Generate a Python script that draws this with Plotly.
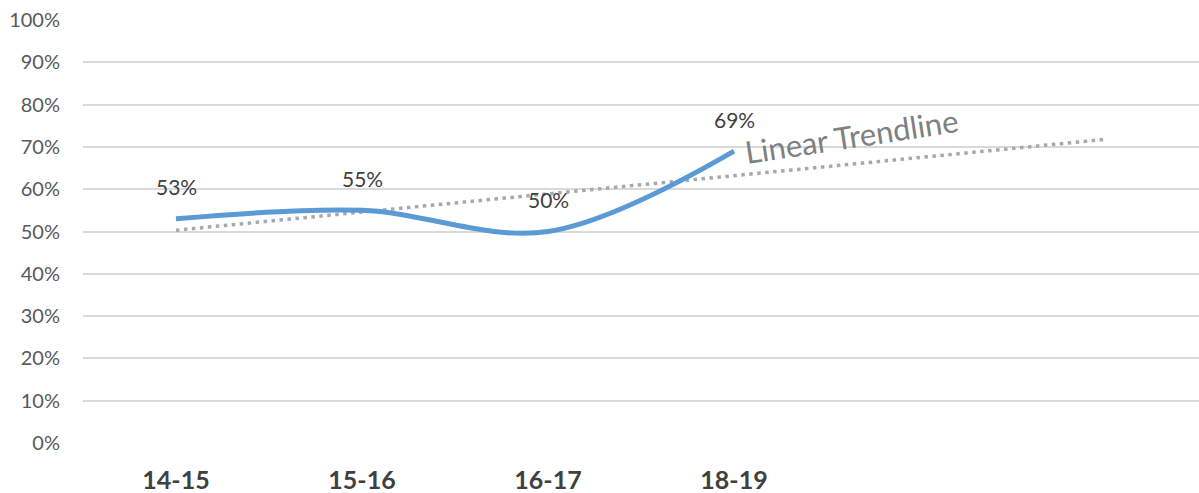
import numpy as np
import plotly.graph_objects as go

# School years and the share recorded for each
years = ["14-15", "15-16", "16-17", "18-19"]
share = [53, 55, 50, 69]
# Two extra empty periods on the axis for the trendline forecast
forecast_periods = 2

y_ticks = list(range(0, 101, 10))

x_pos = list(range(len(years)))
x_all = np.arange(len(years) + forecast_periods)

# Least-squares linear trend over the observed points, extended forward
slope, intercept = np.polyfit(x_pos, share, 1)
trend_y = slope * x_all + intercept

FONT = "Lato, Calibri, 'Open Sans', sans-serif"

fig = go.Figure()

fig.add_trace(go.Scatter(
    x=[x_all[0], x_all[-1]], y=[trend_y[0], trend_y[-1]],
    mode="lines",
    line=dict(color="#A5A9AF", width=3.5, dash="3.5px,4.5px"),
    hoverinfo="skip", showlegend=False,
))

fig.add_trace(go.Scatter(
    x=x_pos, y=share,
    mode="lines",
    line=dict(color="#5B9BD5", width=5, shape="spline", smoothing=1.0),
    showlegend=False,
))

for xi, v in zip(x_pos, share):
    fig.add_annotation(
        x=xi, y=v, text=f"{v}%", showarrow=False,
        yshift=32, font=dict(family=FONT, size=21, color="#404040"),
    )

fig.add_annotation(
    x=3.0, y=trend_y[3], xref="x", yref="y",
    text="Linear Trendline", showarrow=False,
    textangle=-8.7, xanchor="left", yanchor="bottom",
    xshift=6, yshift=2,
    font=dict(family=FONT, size=31, color="#808080"),
)

fig.update_layout(
    width=1199, height=493,
    margin=dict(l=83, r=0, t=20, b=50),
    paper_bgcolor="white", plot_bgcolor="white",
    font=dict(family=FONT),
)

fig.update_xaxes(
    range=[-0.5, len(x_all) - 0.5],
    tickvals=x_pos, ticktext=[f"<b>{y}</b>" for y in years],
    tickfont=dict(family=FONT, size=25, color="#404040"),
    showgrid=False, zeroline=False, showline=False, ticks="",
    ticklabelstandoff=20,
)

fig.update_yaxes(
    range=[0, 100],
    tickvals=y_ticks, ticktext=[f"{t}%" for t in y_ticks],
    tickfont=dict(family=FONT, size=20, color="#595959"),
    showgrid=True, gridcolor="#D9D9D9", gridwidth=2,
    zeroline=False, showline=False, ticks="",
    ticklabelstandoff=22,
)

fig.write_html("out.html")
